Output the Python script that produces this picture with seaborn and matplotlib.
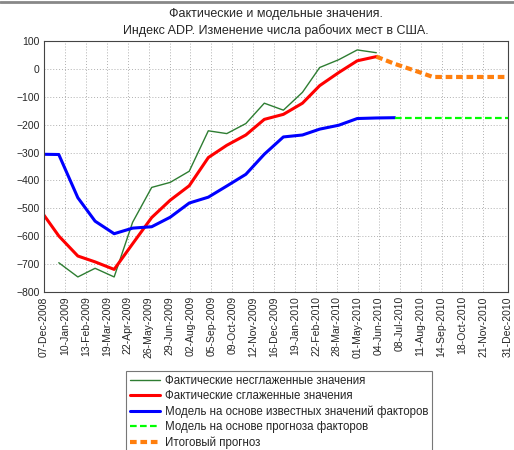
import pandas as pd
import matplotlib
matplotlib.use("Agg")
import matplotlib.pyplot as plt
import seaborn as sns
from matplotlib.lines import Line2D

# monthly values (month ends)
months_main = pd.date_range("2008-11-30", "2010-06-30", freq="ME")
actual_raw = [None, -695, -746, -715, -746, -550, -425, -407, -367, -222, -232, -196,
              -123, -148, -84, 5, 33, 68, 58, None]
actual_smooth = [-503, -599, -671, -692, -719, -627, -533, -471, -419, -318, -274, -237,
                 -181, -163, -123, -60, -13, 29, 44, None]
model_known = [-306, -307, -462, -546, -591, -571, -566, -532, -481, -460, -420, -378,
               -306, -244, -237, -216, -202, -178, -176, -175]

months_fc = pd.date_range("2010-06-30", "2010-12-31", freq="ME")
model_fc = [-175, -175, -175, -175, -175, -175, -175]

months_total = pd.date_range("2010-05-31", "2010-12-31", freq="ME")
total_fc = [44, 18, -5, -29, -29, -29, -29, -29]

tick_labels = ["07-Dec-2008", "10-Jan-2009", "13-Feb-2009", "19-Mar-2009", "22-Apr-2009",
               "26-May-2009", "29-Jun-2009", "02-Aug-2009", "05-Sep-2009", "09-Oct-2009",
               "12-Nov-2009", "16-Dec-2009", "19-Jan-2010", "22-Feb-2010", "28-Mar-2010",
               "01-May-2010", "04-Jun-2010", "08-Jul-2010", "11-Aug-2010", "14-Sep-2010",
               "18-Oct-2010", "21-Nov-2010", "31-Dec-2010"]

labels = ["Фактические несглаженные значения",
          "Фактические сглаженные значения",
          "Модель на основе известных значений факторов",
          "Модель на основе прогноза факторов",
          "Итоговый прогноз"]

main = pd.DataFrame({"date": months_main, "raw": actual_raw, "smooth": actual_smooth,
                     "known": model_known})
main[["raw", "smooth"]] = main[["raw", "smooth"]].astype(float)
fc = pd.DataFrame({"date": months_fc, "value": model_fc})
tot = pd.DataFrame({"date": months_total, "value": total_fc})

sns.set_style("white")
plt.rcParams["font.family"] = ["Liberation Sans", "DejaVu Sans"]

fig = plt.figure(figsize=(5.14, 4.5), dpi=100)
ax = fig.add_axes([44 / 514, 1 - 292 / 450, (508 - 44) / 514, (292 - 41) / 450])

sns.lineplot(data=main, x="date", y="raw", ax=ax, color="#2e7d32", lw=1.0, label=labels[0])
sns.lineplot(data=main, x="date", y="smooth", ax=ax, color="red", lw=2.2, label=labels[1])
sns.lineplot(data=main, x="date", y="known", ax=ax, color="blue", lw=2.2, label=labels[2])
sns.lineplot(data=fc, x="date", y="value", ax=ax, color="#00ff00", lw=1.6,
             dashes=False, linestyle=(0, (3, 1.5)), label=labels[3])
sns.lineplot(data=tot, x="date", y="value", ax=ax, color="#ff7f0e", lw=3.0,
             dashes=False, linestyle=(0, (1.6, 0.9)), label=labels[4])

ticks = pd.to_datetime(tick_labels, format="%d-%b-%Y")
ax.set_xlim(ticks[0], ticks[-1])
ax.set_xticks(ticks)
ax.set_xticklabels(tick_labels, rotation=90, fontsize=7.5)
ax.set_ylim(-800, 100)
ax.set_yticks(range(-800, 101, 100))
ax.tick_params(axis="y", labelsize=7.5)
ax.tick_params(direction="in", length=4, width=0.6, color="#444444", pad=3)
ax.set_xlabel("")
ax.set_ylabel("")
ax.grid(True, linestyle=(0, (1, 2)), color="#b0b0b0", lw=0.7)
for s in ax.spines.values():
    s.set_color("#444444")
    s.set_linewidth(0.8)

ax.set_title("Фактические и модельные значения.\nИндекс ADP. Изменение числа рабочих мест в США.",
             fontsize=9, pad=5, linespacing=1.45)

# thin frame line at the top of the figure
fig.add_artist(Line2D([0, 1], [1 - 1.5 / 450, 1 - 1.5 / 450], color="#888888", lw=2.0))

ax.get_legend().remove()
handles, _ = ax.get_legend_handles_labels()
leg = fig.legend(handles, labels, loc="upper left", bbox_to_anchor=(126 / 514, 1 - 371 / 450),
                 fontsize=8.3, frameon=True, fancybox=False, edgecolor="#555555",
                 handlelength=2.6, handletextpad=0.4, labelspacing=0.28, borderpad=0.35,
                 borderaxespad=0)
leg.get_frame().set_linewidth(0.8)

fig.savefig("out.png", dpi=100)
